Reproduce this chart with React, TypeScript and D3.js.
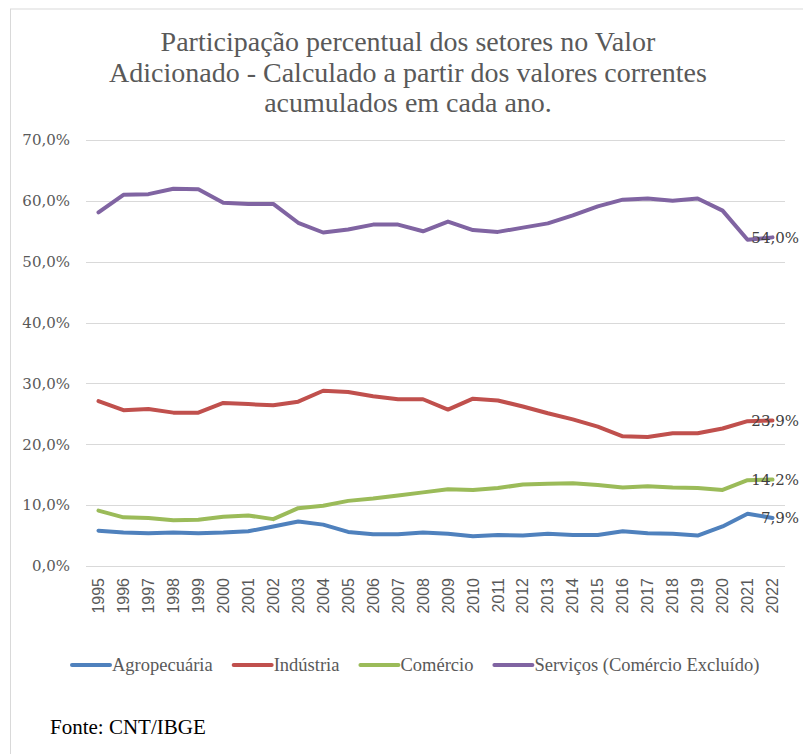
import React, { useEffect, useRef } from 'react';
import * as d3 from 'd3';

// Anos da série
const YEARS = [
  '1995', '1996', '1997', '1998', '1999', '2000', '2001', '2002', '2003', '2004',
  '2005', '2006', '2007', '2008', '2009', '2010', '2011', '2012', '2013', '2014',
  '2015', '2016', '2017', '2018', '2019', '2020', '2021', '2022',
];

// Participação (%) de cada setor
const AGRO = [
  5.8, 5.5, 5.4, 5.5, 5.4, 5.5, 5.7, 6.5, 7.3, 6.8,
  5.6, 5.2, 5.2, 5.5, 5.3, 4.9, 5.1, 5.0, 5.3, 5.1,
  5.1, 5.7, 5.4, 5.3, 5.0, 6.5, 8.6, 7.9,
];
const INDUSTRIA = [
  27.1, 25.6, 25.8, 25.2, 25.2, 26.8, 26.6, 26.4, 27.0, 28.8,
  28.6, 27.9, 27.4, 27.4, 25.7, 27.5, 27.2, 26.2, 25.1, 24.1,
  22.9, 21.3, 21.2, 21.8, 21.8, 22.6, 23.8, 23.9,
];
const COMERCIO = [
  9.1, 8.0, 7.9, 7.5, 7.6, 8.1, 8.3, 7.7, 9.5, 9.9,
  10.7, 11.1, 11.6, 12.1, 12.6, 12.5, 12.8, 13.4, 13.5, 13.6,
  13.3, 12.9, 13.1, 12.9, 12.8, 12.5, 14.1, 14.2,
];
const SERVICOS = [
  58.1, 61.0, 61.1, 62.0, 61.9, 59.7, 59.5, 59.5, 56.4, 54.8,
  55.3, 56.1, 56.1, 55.0, 56.6, 55.2, 54.9, 55.6, 56.3, 57.6,
  59.1, 60.2, 60.4, 60.0, 60.4, 58.4, 53.6, 54.0,
];

const SERIES_NAMES = ['Agropecuária', 'Indústria', 'Comércio', 'Serviços (Comércio Excluído)'];
const SERIES_VALUES = [AGRO, INDUSTRIA, COMERCIO, SERVICOS];
const SERIES_COLORS = ['#4f81bd', '#c0504d', '#9bbb59', '#8064a2'];

const Y_TICKS = [0, 10, 20, 30, 40, 50, 60, 70];

const TITLE_LINES = [
  'Participação percentual dos setores no Valor',
  'Adicionado - Calculado a partir dos valores correntes',
  'acumulados em cada ano.',
];

const WIDTH = 803;
const HEIGHT = 754;
const SERIF = '"Liberation Serif", "DejaVu Serif", serif';
const WIDE_SERIF = '"DejaVu Serif", serif';
const SANS = '"Liberation Sans", Arial, sans-serif';

const fmt = (v: number) => v.toFixed(1).replace('.', ',') + '%';

export default function App() {
  const svgRef = useRef<SVGSVGElement>(null);

  useEffect(() => {
    if (!svgRef.current) return;
    const svg = d3.select(svgRef.current);
    svg.selectAll('*').remove();

    const margin = { top: 140, right: 18, bottom: 188, left: 86 };
    const innerWidth = WIDTH - margin.left - margin.right;
    const innerHeight = HEIGHT - margin.top - margin.bottom;

    // frame of the original screenshot
    svg.append('line')
      .attr('x1', 10).attr('x2', WIDTH).attr('y1', 9).attr('y2', 9)
      .attr('stroke', '#d9d9d9');
    svg.append('line')
      .attr('x1', 10.5).attr('x2', 10.5).attr('y1', 9).attr('y2', HEIGHT)
      .attr('stroke', '#d9d9d9');

    // Title
    const title = svg.append('text')
      .attr('text-anchor', 'middle')
      .attr('fill', '#595959')
      .attr('font-family', SERIF)
      .attr('font-size', '28px');
    TITLE_LINES.forEach((line, i) => {
      title.append('tspan')
        .attr('x', 408)
        .attr('y', 51 + i * 30.5)
        .text(line);
    });

    const x = d3.scaleBand<string>()
      .domain(YEARS)
      .range([0, innerWidth]);

    const y = d3.scaleLinear()
      .domain([0, 70])
      .range([innerHeight, 0]);

    const g = svg.append('g')
      .attr('transform', `translate(${margin.left},${margin.top})`);

    // Grid
    g.append('g')
      .selectAll('line')
      .data(Y_TICKS)
      .enter()
      .append('line')
      .attr('x1', 0)
      .attr('x2', innerWidth)
      .attr('y1', d => Math.round(y(d)) + 0.5)
      .attr('y2', d => Math.round(y(d)) + 0.5)
      .attr('stroke', '#d9d9d9')
      .attr('stroke-width', 1);

    // Y axis
    const yAxis = d3.axisLeft(y).tickValues(Y_TICKS).tickFormat(d => fmt(+d)).tickSize(0).tickPadding(16);
    g.append('g')
      .call(yAxis)
      .call(s => s.select('.domain').remove())
      .call(s => s.selectAll('.tick text')
        .attr('fill', '#595959')
        .attr('font-family', WIDE_SERIF)
        .attr('font-size', '15px'));

    // X axis
    const xAxis = d3.axisBottom(x).tickSize(0).tickPadding(0);
    g.append('g')
      .attr('transform', `translate(0,${innerHeight})`)
      .call(xAxis)
      .call(s => s.select('.domain').remove())
      .call(s => s.selectAll('.tick text')
        .attr('fill', '#595959')
        .attr('font-family', SANS)
        .attr('font-size', '16px')
        .attr('text-anchor', 'end')
        .attr('transform', 'rotate(-90)')
        .attr('x', -12)
        .attr('y', 0)
        .attr('dy', '0.35em'));

    const line = d3.line<number>()
      .x((_, i) => (x(YEARS[i]) ?? 0) + x.bandwidth() / 2)
      .y(d => y(d));

    SERIES_VALUES.forEach((vals, si) => {
      g.append('path')
        .datum(vals)
        .attr('d', line)
        .attr('fill', 'none')
        .attr('stroke', SERIES_COLORS[si])
        .attr('stroke-width', 4)
        .attr('stroke-linejoin', 'round')
        .attr('stroke-linecap', 'round');
    });

    // end labels
    SERIES_VALUES.forEach(vals => {
      const last = vals[vals.length - 1];
      g.append('text')
        .attr('x', innerWidth + 14)
        .attr('y', y(last))
        .attr('dy', '0.35em')
        .attr('text-anchor', 'end')
        .attr('fill', '#404040')
        .attr('font-family', WIDE_SERIF)
        .attr('font-size', '15px')
        .text(fmt(last));
    });

    // Legend
    const legend = svg.append('g').attr('transform', 'translate(72,665)');
    let lx = 0;
    SERIES_NAMES.forEach((name, i) => {
      legend.append('line')
        .attr('x1', lx).attr('x2', lx + 38)
        .attr('y1', 0).attr('y2', 0)
        .attr('stroke', SERIES_COLORS[i])
        .attr('stroke-width', 4)
        .attr('stroke-linecap', 'round');
      const t = legend.append('text')
        .attr('x', lx + 40)
        .attr('y', 0)
        .attr('dy', '0.35em')
        .attr('fill', '#595959')
        .attr('font-family', SERIF)
        .attr('font-size', '18.5px')
        .text(name);
      const w = (t.node() as SVGTextElement).getComputedTextLength();
      lx += 40 + w + 21;
    });

    // Source
    svg.append('text')
      .attr('x', 50)
      .attr('y', 734)
      .attr('fill', '#000000')
      .attr('font-family', SERIF)
      .attr('font-size', '21px')
      .text('Fonte: CNT/IBGE');
  }, []);

  return (
    <svg
      ref={svgRef}
      width={WIDTH}
      height={HEIGHT}
      style={{ position: 'absolute', left: 0, top: 0, background: '#ffffff' }}
    />
  );
}
